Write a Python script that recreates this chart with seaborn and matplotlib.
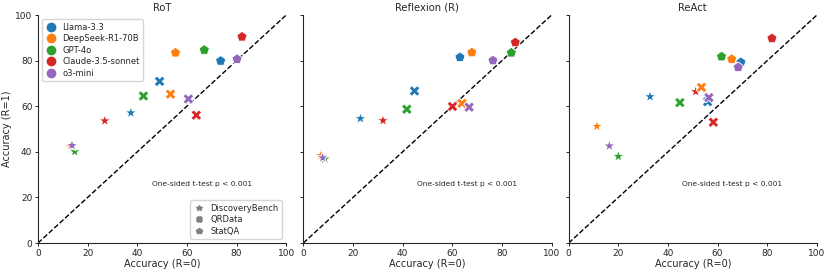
import matplotlib
matplotlib.use("Agg")
import matplotlib.pyplot as plt
import seaborn as sns
import pandas as pd
from matplotlib.lines import Line2D

models = ["Llama-3.3", "DeepSeek-R1-70B", "GPT-4o", "Claude-3.5-sonnet", "o3-mini"]
datasets = ["DiscoveryBench", "QRData", "StatQA"]
methods = ["RoT", "Reflexion (R)", "ReAct"]

# accuracy with R=0 (x) and R=1 (y); order per dataset follows `models`
rot_db_x = [37.4, 13.1, 14.8, 26.9, 13.7]
rot_db_y = [57.1, 42.3, 40.1, 53.6, 42.8]
rot_qr_x = [49.0, 53.4, 42.5, 63.8, 60.6]
rot_qr_y = [70.9, 65.3, 64.5, 56.1, 63.2]
rot_sq_x = [73.6, 55.4, 67.0, 82.2, 80.2]
rot_sq_y = [79.9, 83.5, 84.7, 90.5, 80.7]

ref_db_x = [23.0, 7.1, 8.7, 32.1, 7.8]
ref_db_y = [54.6, 38.4, 36.9, 53.7, 37.4]
ref_qr_x = [44.8, 63.9, 41.7, 60.1, 66.8]
ref_qr_y = [66.7, 61.3, 58.7, 59.9, 59.6]
ref_sq_x = [63.1, 67.9, 83.8, 85.4, 76.4]
ref_sq_y = [81.5, 83.6, 83.5, 88.0, 80.1]

rea_db_x = [32.8, 11.4, 20.0, 51.2, 16.4]
rea_db_y = [64.2, 51.2, 38.0, 66.4, 42.6]
rea_qr_x = [56.0, 53.5, 44.8, 58.3, 56.5]
rea_qr_y = [62.0, 68.3, 61.6, 53.0, 63.8]
rea_sq_x = [69.4, 65.7, 61.6, 81.9, 68.3]
rea_sq_y = [79.3, 80.7, 81.8, 89.8, 77.1]

annotation = "One-sided t-test p < 0.001"

data = {
    "RoT": [(rot_db_x, rot_db_y), (rot_qr_x, rot_qr_y), (rot_sq_x, rot_sq_y)],
    "Reflexion (R)": [(ref_db_x, ref_db_y), (ref_qr_x, ref_qr_y), (ref_sq_x, ref_sq_y)],
    "ReAct": [(rea_db_x, rea_db_y), (rea_qr_x, rea_qr_y), (rea_sq_x, rea_sq_y)],
}

rows = []
for m in methods:
    for d, (xs, ys) in zip(datasets, data[m]):
        for mod, x, y in zip(models, xs, ys):
            rows.append({"method": m, "dataset": d, "model": mod, "x": x, "y": y})
df = pd.DataFrame(rows)

sns.set_style("ticks")
plt.rcParams["font.family"] = ["DejaVu Sans"]

palette = dict(zip(models, sns.color_palette("tab10", 5)))
markers = {"DiscoveryBench": "*", "QRData": "X", "StatQA": "p"}
msizes = {"DiscoveryBench": 85, "QRData": 60, "StatQA": 60}

fig, axes = plt.subplots(1, 3, figsize=(8.31, 2.74), dpi=100, sharey=True)
fig.subplots_adjust(left=0.0457, right=0.983, top=0.945, bottom=0.113, wspace=0.069)

for ax, m in zip(axes, methods):
    sub = df[df["method"] == m]
    for d in datasets:
        sd = sub[sub["dataset"] == d]
        sns.scatterplot(data=sd, x="x", y="y", hue="model", hue_order=models,
                        palette=palette, marker=markers[d], s=msizes[d],
                        ax=ax, legend=False, zorder=3)
    ax.plot([0, 100], [0, 100], ls="--", color="black", lw=1, zorder=2)
    ax.set_xlim(0, 100)
    ax.set_ylim(0, 100)
    ax.set_title(m, fontsize=7.2, pad=3)
    ax.set_xlabel("Accuracy (R=0)", fontsize=7, labelpad=1)
    ax.set_ylabel("Accuracy (R=1)" if m == "RoT" else "", fontsize=7, labelpad=2)
    ax.tick_params(labelsize=6.5, length=2.5, pad=1.5, width=0.7)
    ax.set_xticks([0, 20, 40, 60, 80, 100])
    ax.set_yticks([0, 20, 40, 60, 80, 100])
    for sp in ["left", "bottom"]:
        ax.spines[sp].set_linewidth(0.8)
    sns.despine(ax=ax)
    ax.text(66, 26, annotation, fontsize=5.4, ha="center", va="center")

ax0 = axes[0]
hue_handles = [Line2D([], [], marker="o", ls="", color=palette[mo], markersize=6) for mo in models]
leg1 = ax0.legend(hue_handles, models, loc="upper left", fontsize=6, frameon=True,
                  labelspacing=0.3, handlelength=1.3, handletextpad=0.7)
ax0.add_artist(leg1)
style_handles = [Line2D([], [], marker=markers[d], ls="", color="gray", markersize=4) for d in datasets]
ax0.legend(style_handles, datasets, loc="lower right", fontsize=6, frameon=True,
           labelspacing=0.3, handlelength=1.3, handletextpad=0.7)

fig.savefig("out.png", dpi=100)
